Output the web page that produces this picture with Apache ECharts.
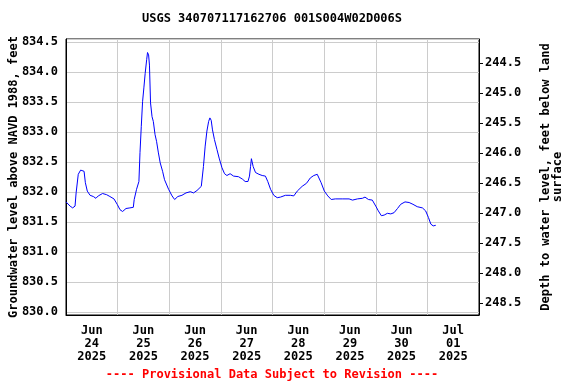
<!DOCTYPE html>
<html>
<head>
<meta charset="utf-8">
<script src="https://cdn.jsdelivr.net/npm/echarts@6/dist/echarts.min.js"></script>
<style>
html,body{margin:0;padding:0;background:#fff;}
#c{width:576px;height:384px;}
</style>
</head>
<body>
<div id="c"></div>
<script>
// Hours since 2025-06-24 00:00
var hours = [0,1.9,3.1,4.2,4.7,5.7,6.8,7.7,8.4,9.0,9.9,11.2,12.7,13.9,15.0,17.0,18.9,20.4,22.3,23.8,25.1,26.3,27.9,29.7,31.3,31.7,32.8,33.9,34.4,35.0,35.6,36.2,36.8,37.5,37.9,38.4,38.8,39.3,40.0,40.6,41.4,42.1,42.9,43.8,44.9,45.8,47.7,49.3,50.5,52.0,53.9,55.8,57.8,59.3,60.9,62.9,63.9,64.7,65.5,66.3,66.9,67.5,68.1,69.0,70.2,71.2,72.5,73.7,74.8,76.3,77.9,80.2,82.0,83.3,84.6,85.3,85.8,86.2,87.0,88.1,89.7,91.2,92.7,93.8,95.1,96.6,98.2,99.7,102.0,104.3,105.9,107.5,109.8,111.8,113.6,115.2,116.8,117.5,118.6,120.1,121.7,123.3,125.2,128.4,131.6,133.2,135.5,137.8,139.0,140.6,142.4,144.0,145.2,146.6,147.9,149.4,151.0,152.5,154.1,155.6,157.6,159.5,161.3,163.3,165.7,167.2,168.5,169.6,170.7,171.9];
var levels = [831.84,831.77,831.74,831.77,831.99,832.30,832.37,832.39,832.35,832.16,832.02,831.95,831.93,831.90,831.94,831.98,831.96,831.93,831.89,831.80,831.71,831.68,831.73,831.74,831.75,831.88,832.05,832.18,832.66,833.10,833.51,833.74,833.98,834.21,834.33,834.29,834.12,833.49,833.26,833.18,832.96,832.85,832.67,832.49,832.35,832.21,832.05,831.94,831.88,831.93,831.95,831.99,832.01,831.99,832.03,832.10,832.43,832.77,833.02,833.18,833.24,833.20,833.04,832.88,832.71,832.57,832.41,832.31,832.28,832.31,832.27,832.26,832.22,832.18,832.18,832.27,832.43,832.56,832.43,832.33,832.30,832.28,832.27,832.18,832.05,831.95,831.91,831.92,831.95,831.95,831.94,832.02,832.10,832.15,832.24,832.28,832.30,832.27,832.16,832.02,831.94,831.88,831.89,831.89,831.89,831.87,831.89,831.90,831.92,831.88,831.87,831.77,831.69,831.61,831.62,831.65,831.64,831.66,831.73,831.80,831.84,831.83,831.80,831.76,831.74,831.69,831.58,831.47,831.44,831.45];
var dayLabels = ['Jun\n24\n2025','Jun\n25\n2025','Jun\n26\n2025','Jun\n27\n2025','Jun\n28\n2025','Jun\n29\n2025','Jun\n30\n2025','Jul\n01\n2025'];
var rightTicks = [244.5,245.0,245.5,246.0,246.5,247.0,247.5,248.0,248.5];
var landSurface = 1078.65;
var titleText = 'USGS 340707117162706 001S004W02D006S';
var footerText = '---- Provisional Data Subject to Revision ----';

var yMin = 829.955, yMax = 834.555;
var FONT = 'DejaVu Sans Mono';
var data = hours.map(function(h, i){ return [h, levels[i]]; });

var chart = echarts.init(document.getElementById('c'), null, {renderer:'canvas'});
chart.setOption({
  animation: false,
  backgroundColor: '#ffffff',
  grid: {left: 66, right: 97, top: 39, bottom: 69, containLabel: false, outerBoundsMode: 'none',
         show: true, borderColor: '#000', borderWidth: 1, backgroundColor: 'transparent'},
  graphic: [
    {type:'text', x: 272, y: 19, style:{text: titleText, align:'center', verticalAlign:'middle', font:'bold 12px "DejaVu Sans Mono"', fill:'#000'}},
    {type:'text', x: 272, y: 375, style:{text: footerText, align:'center', verticalAlign:'middle', font:'bold 12px "DejaVu Sans Mono"', fill:'#ff0000'}}
  ],
  xAxis: [
    {type:'value', min:0, max:192, interval:24, position:'bottom',
     axisLine:{show:true, onZero:false, lineStyle:{color:'#000', width:1}}, axisTick:{show:false}, axisLabel:{show:false},
     splitLine:{show:true, lineStyle:{color:'#cccccc', width:1}}},
    {type:'value', min:0, max:192, interval:12, position:'bottom', offset:0,
     axisLine:{show:false, onZero:false}, axisTick:{show:false}, splitLine:{show:false},
     axisLabel:{show:true, margin:9, color:'#000', fontFamily:FONT, fontWeight:'bold', fontSize:12, lineHeight:13,
       formatter:function(v){ if (v % 24 !== 12) return ''; var k = (v-12)/24; return dayLabels[k] || ''; }}}
  ],
  yAxis: [
    {type:'value', min:yMin, max:yMax, minInterval:0.5, maxInterval:0.5, position:'left',
     name:'Groundwater level above NAVD 1988, feet', nameLocation:'middle', nameGap:46, nameRotate:90, nameMoveOverlap:false,
     nameTextStyle:{color:'#000', fontFamily:FONT, fontWeight:'bold', fontSize:12},
     axisLine:{show:true, onZero:false, lineStyle:{color:'#000'}}, axisTick:{show:false}, minorTick:{show:false},
     axisLabel:{show:true, margin:8, color:'#000', fontFamily:FONT, fontWeight:'bold', fontSize:12,
       showMinLabel:false, showMaxLabel:false,
       formatter:function(v){ var r = Math.round(v*2)/2; return Math.abs(r - v) < 1e-6 ? v.toFixed(1) : ''; }},
     splitLine:{show:true, lineStyle:{color:'#cccccc', width:1}}},
    {type:'value', min:landSurface - yMax, max:landSurface - yMin, inverse:true, minInterval:0.5, maxInterval:0.5, position:'right',
     name:'Depth to water level, feet below land\nsurface', nameLocation:'middle', nameGap:61, nameRotate:90, nameMoveOverlap:false,
     nameTextStyle:{color:'#000', fontFamily:FONT, fontWeight:'bold', fontSize:12, lineHeight:12, align:'center'},
     axisLine:{show:true, onZero:false, lineStyle:{color:'#000'}},
     axisTick:{show:true, length:4, inside:false, customValues: rightTicks, lineStyle:{color:'#000'}},
     axisLabel:{show:true, margin:6, color:'#000', fontFamily:FONT, fontWeight:'bold', fontSize:12, customValues: rightTicks,
       formatter:function(v){ return v.toFixed(1); }},
     splitLine:{show:false}}
  ],
  series: [{
    type:'line', xAxisIndex:0, yAxisIndex:0, data:data, showSymbol:false, symbol:'none',
    lineStyle:{color:'#0000ff', width:1}, smooth:false
  }]
});
</script>
</body>
</html>
